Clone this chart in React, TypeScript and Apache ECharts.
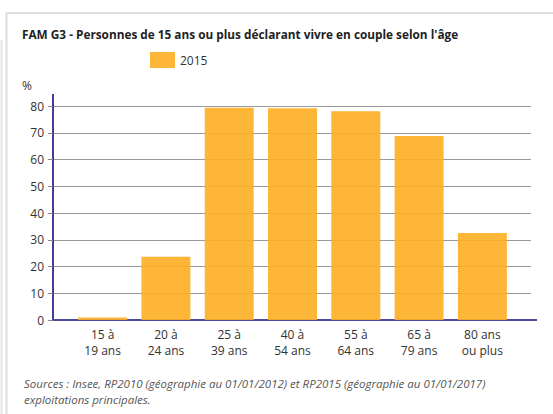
import React, { useEffect, useRef } from "react";
import * as echarts from "echarts";

const categories = ["15 à\n19 ans", "20 à\n24 ans", "25 à\n39 ans", "40 à\n54 ans", "55 à\n64 ans", "65 à\n79 ans", "80 ans\nou plus"];
const values2015 = [0.9, 23.6, 79.3, 79.2, 78.0, 68.8, 32.5];
const seriesName = "2015";
const yMin = 0;
const yMax = 80;
const yInterval = 10;
const titleText = "FAM G3 - Personnes de 15 ans ou plus déclarant vivre en couple selon l'âge";
const unitText = "%";
const sourceLines = [
  "Sources : Insee, RP2010 (géographie au 01/01/2012) et RP2015 (géographie au 01/01/2017)",
  "exploitations principales.",
];

const FONT = "'Open Sans', 'Noto Sans', sans-serif";

export default function App() {
  const ref = useRef<HTMLDivElement>(null);
  useEffect(() => {
    if (!ref.current) return;
    const chart = echarts.init(ref.current, null, { renderer: "svg" });
    chart.setOption({
      animation: false,
      backgroundColor: "#fff",
      textStyle: { fontFamily: FONT },
      grid: [
        { left: 53, top: 106, width: 478, height: 214 },
        { left: 71, top: 106, width: 443, height: 214 },
      ],
      legend: {
        left: 145,
        top: 47,
        itemWidth: 25,
        itemHeight: 16,
        itemGap: 6,
        textStyle: { fontSize: 12, color: "#333", fontFamily: FONT },
        data: [{ name: seriesName, icon: "rect" }],
      },
      xAxis: [
        {
          gridIndex: 0,
          type: "value",
          min: 0,
          max: 1,
          axisLine: { show: true, lineStyle: { color: "#4b4ba0", width: 2 } },
          axisTick: { show: false },
          axisLabel: { show: false },
          splitLine: { show: false },
        },
        {
          gridIndex: 1,
          type: "category",
          data: categories,
          axisLine: { show: false },
          axisTick: { show: false },
          axisLabel: { fontSize: 12, color: "#333", lineHeight: 16, margin: 6, interval: 0, fontFamily: FONT },
        },
      ],
      yAxis: [
        {
          gridIndex: 0,
          type: "value",
          min: yMin,
          max: yMax,
          interval: yInterval,
          axisLine: { show: true, lineStyle: { color: "#00007a", width: 1.5 } },
          axisTick: { show: true, length: 5, lineStyle: { color: "#888" } },
          axisLabel: { fontSize: 12, color: "#333", margin: 9, fontFamily: FONT },
          splitLine: { show: true, lineStyle: { color: "#9a9a9a", width: 1.2 } },
        },
        {
          gridIndex: 1,
          type: "value",
          min: yMin,
          max: yMax,
          show: false,
        },
      ],
      series: [
        {
          name: seriesName,
          type: "bar",
          xAxisIndex: 1,
          yAxisIndex: 1,
          data: values2015,
          barWidth: 49,
          itemStyle: { color: "rgba(253,174,33,0.9)" },
        },
      ],
      graphic: [
        { type: "line", shape: { x1: 6.5, y1: 13, x2: 6.5, y2: 414 }, style: { stroke: "#dddddd", lineWidth: 2 } },
        { type: "line", shape: { x1: 6, y1: 13, x2: 553, y2: 13 }, style: { stroke: "#dddddd", lineWidth: 2 } },
        { type: "line", shape: { x1: 1.5, y1: 40, x2: 1.5, y2: 414 }, style: { stroke: "#e6e6e6", lineWidth: 2 } },
        { type: "line", shape: { x1: 53, y1: 94, x2: 53, y2: 106 }, style: { stroke: "#00007a", lineWidth: 1.5 } },
        { type: "line", shape: { x1: 531, y1: 320, x2: 537, y2: 320 }, style: { stroke: "#4b4ba0", lineWidth: 2 } },
        {
          type: "text",
          left: 22,
          top: 28,
          style: { text: titleText, font: `bold 11.8px ${FONT}`, fill: "#222" },
        },
        {
          type: "text",
          left: 22,
          top: 79,
          style: { text: unitText, font: `12px ${FONT}`, fill: "#333" },
        },
        {
          type: "text",
          left: 24,
          top: 375,
          style: { text: sourceLines.join("\n"), font: `italic 11.5px ${FONT}`, fill: "#555", lineHeight: 16 },
        },
      ],
    });
    return () => chart.dispose();
  }, []);
  return <div ref={ref} style={{ position: "absolute", left: 0, top: 0, width: 553, height: 414 }} />;
}
